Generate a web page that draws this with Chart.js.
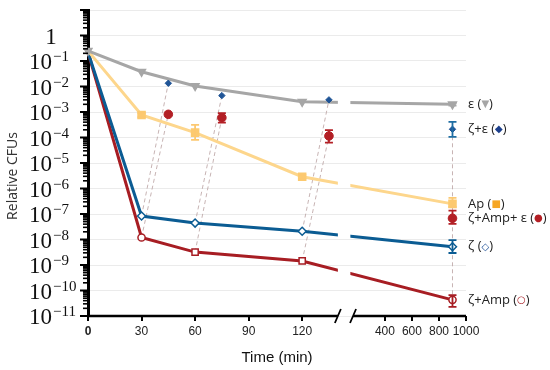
<!DOCTYPE html>
<html lang="en">
<head>
  <meta charset="UTF-8">
  <title>Relative CFUs</title>
  <style>
    body { margin: 0; background: #fff; }
    canvas { display: block; }
  </style>
</head>
<body>
  <canvas id="chartCanvas" width="550" height="370"></canvas>

  <script src="https://cdn.jsdelivr.net/npm/chart.js"></script>
  <script>
    // Sampling times (min)
    const times = [0, 30, 60, 120, 900];
    const timesEps = [45, 75, 135, 900];

    // Relative CFUs per series
    const eps = [0.25, 0.038, 0.0105, 0.0025, 0.002];
    const ap = [0.25, 7.6e-4, 1.55e-4, 2.9e-6, 2.5e-7];
    const zeta = [0.22, 8.3e-8, 4.4e-8, 2.1e-8, 5.2e-9];
    const zetaAmp = [0.22, 1.2e-8, 3.2e-9, 1.44e-9, 4.3e-11];
    const zetaEps = [0.0134, 0.0044, 0.003, 2.1e-4];
    const zetaAmpEps = [8.1e-4, 6e-4, 1.15e-4, 6.8e-8];

    // Error bars [low, high] (null = none)
    const epsErr = [null, null, null, null, [1.8e-3, 2.25e-3]];
    const apErr = [null, [6.3e-4, 9e-4], [8e-5, 3.1e-4], [2.4e-6, 3.4e-6], [1.9e-7, 4.3e-7]];
    const zetaErr = [null, null, null, null, [2.95e-9, 9.5e-9]];
    const zetaAmpErr = [null, null, null, null, [2.3e-11, 6.6e-11]];
    const zetaEpsErr = [null, null, null, [1.05e-4, 4.1e-4]];
    const zetaAmpEpsErr = [null, [3.8e-4, 9.1e-4], [6.3e-5, 1.96e-4], [4.1e-8, 1.35e-7]];

    // Axis ticks
    const xTicks = [0, 30, 60, 90, 120, 400, 600, 800, 1000];
    const yExponents = [0, -1, -2, -3, -4, -5, -6, -7, -8, -9, -10, -11];

    // broken time axis: 0-140 min linear, then a compressed 164-1000 segment
    const BREAK_END = 140, SEG2_START = 164, SEG2_AXIS = 148.5, SEG2_SCALE = 0.0757;
    function toAxis(t) {
      return t <= BREAK_END ? t : SEG2_AXIS + (t - SEG2_START) * SEG2_SCALE;
    }
    const LINE_GAP = [140, 147];

    const pts = (ts, vs) => vs.map((v, i) => ({ x: toAxis(ts[i]), y: v }));

    const GRAY = '#a6a6a6', YELLOW = '#fdd68c', BLUE = '#0b5c93', RED = '#a71d23';
    const NAVY = '#1f5496', RED2 = '#b31f25';
    const DASH = 'rgba(185,160,160,0.8)';

    const connectors = [];
    for (let i = 0; i < 3; i++) {
      connectors.push([{ x: toAxis(times[i + 1]), y: zeta[i + 1] }, { x: toAxis(timesEps[i]), y: zetaEps[i] }]);
      connectors.push([{ x: toAxis(times[i + 1]), y: zetaAmp[i + 1] }, { x: toAxis(timesEps[i]), y: zetaAmpEps[i] }]);
    }
    connectors.push([{ x: toAxis(times[4]), y: zetaEps[3] }, { x: toAxis(times[4]), y: zetaAmp[4] }]);

    const legendItems = [
      { text: 'ε', sym: '▼', color: GRAY, value: eps[4] },
      { text: 'ζ+ε', sym: '◆', color: '#1c3f8c', value: zetaEps[3] },
      { text: 'Ap', sym: '■', color: '#f6a623', value: ap[4] },
      { text: 'ζ+Amp+ ε', sym: '●', color: RED2, value: zetaAmpEps[3] },
      { text: 'ζ', sym: '◇', color: '#1c4f96', value: zeta[4] },
      { text: 'ζ+Amp', sym: '○', color: RED, value: zetaAmp[4] }
    ];

    const lineDefaults = { tension: 0, borderWidth: 3, clip: false, broken: true, pointBorderWidth: 1.5 };

    const datasets = connectors.map(c => ({
      data: c, borderColor: DASH, borderWidth: 1, borderDash: [4, 3], pointRadius: 0, order: 10, clip: false
    }));
    datasets.push(
      Object.assign({}, lineDefaults, {
        data: pts(times, zetaAmp), borderColor: RED, errors: zetaAmpErr, order: 5,
        pointStyle: ['circle', 'circle', 'rect', 'rect', 'circle'],
        pointRadius: [0, 3.6, 4.4, 4.4, 3.6], pointBackgroundColor: '#fff', pointBorderColor: RED
      }),
      Object.assign({}, lineDefaults, {
        data: pts(times, zeta), borderColor: BLUE, errors: zetaErr, order: 4,
        pointStyle: 'rectRot', pointRadius: [0, 4, 4, 4, 4], pointBackgroundColor: '#fff', pointBorderColor: BLUE
      }),
      Object.assign({}, lineDefaults, {
        data: pts(times, ap), borderColor: YELLOW, errors: apErr, errColor: '#fcc870', order: 3,
        pointStyle: 'rect', pointRadius: [0, 5, 5, 5, 5], pointBackgroundColor: '#fcca70', pointBorderColor: '#fcca70'
      }),
      Object.assign({}, lineDefaults, {
        data: pts(times, eps), borderColor: GRAY, errors: epsErr, order: 2,
        pointStyle: 'triangle', pointRotation: 180, pointRadius: 4.5, pointBackgroundColor: GRAY, pointBorderColor: GRAY
      }),
      {
        data: pts(timesEps, zetaEps), showLine: false, errors: zetaEpsErr, errColor: '#1f6ea3', order: 1, clip: false,
        pointStyle: 'rectRot', pointRadius: 3.2, pointBackgroundColor: NAVY, pointBorderColor: NAVY
      },
      {
        data: pts(timesEps, zetaAmpEps), showLine: false, errors: zetaAmpEpsErr, order: 0, clip: false,
        pointStyle: 'circle', pointRadius: 4.3, pointBackgroundColor: RED2, pointBorderColor: RED2
      }
    );

    const decorations = {
      id: 'decorations',
      beforeDatasetDraw(chart, args) {
        const ds = chart.data.datasets[args.index];
        if (!ds.broken) return;
        const { ctx, width, height, scales: { x } } = chart;
        const a = x.getPixelForValue(LINE_GAP[0]), b = x.getPixelForValue(LINE_GAP[1]);
        ctx.save();
        ctx.beginPath();
        ctx.rect(0, 0, a, height);
        ctx.rect(b, 0, width - b, height);
        ctx.clip();
      },
      afterDatasetDraw(chart, args) {
        if (chart.data.datasets[args.index].broken) chart.ctx.restore();
      },
      afterDatasetsDraw(chart) {
        const { ctx, scales: { y } } = chart;
        // error bars
        chart.data.datasets.forEach((ds, i) => {
          if (!ds.errors) return;
          const meta = chart.getDatasetMeta(i);
          ctx.save();
          ctx.strokeStyle = ds.errColor || ds.pointBorderColor;
          ctx.lineWidth = 1.8;
          ds.errors.forEach((e, j) => {
            if (!e) return;
            const px = meta.data[j].x;
            const y0 = y.getPixelForValue(e[0]), y1 = y.getPixelForValue(e[1]);
            ctx.beginPath();
            ctx.moveTo(px, y0); ctx.lineTo(px, y1);
            ctx.moveTo(px - 4, y0); ctx.lineTo(px + 4, y0);
            ctx.moveTo(px - 4, y1); ctx.lineTo(px + 4, y1);
            ctx.stroke();
          });
          ctx.restore();
        });
      },
      afterDraw(chart) {
        const { ctx, chartArea, scales: { x, y } } = chart;
        const left = chartArea.left, bottom = chartArea.bottom;
        ctx.save();

        // x axis with break
        const a = x.getPixelForValue(BREAK_END), b = x.getPixelForValue(SEG2_AXIS);
        ctx.strokeStyle = '#000';
        ctx.lineWidth = 2.5;
        ctx.beginPath();
        ctx.moveTo(left - 1, bottom); ctx.lineTo(a, bottom);
        ctx.moveTo(b, bottom); ctx.lineTo(chartArea.right, bottom);
        ctx.stroke();
        ctx.lineWidth = 1.8;
        ctx.beginPath();
        ctx.moveTo(a - 3, bottom + 7); ctx.lineTo(a + 3, bottom - 7);
        ctx.moveTo(b - 3, bottom + 7); ctx.lineTo(b + 3, bottom - 7);
        ctx.stroke();

        // y ticks: majors and minors
        for (let e = 1; e >= -11; e--) {
          const py = y.getPixelForValue(Math.pow(10, e));
          ctx.lineWidth = 2;
          ctx.beginPath(); ctx.moveTo(left - 8, py); ctx.lineTo(left, py); ctx.stroke();
          if (e === 1) continue;
          ctx.lineWidth = 1.6;
          for (let k = 2; k <= 9; k++) {
            const my = y.getPixelForValue(k * Math.pow(10, e));
            ctx.beginPath(); ctx.moveTo(left - 5, my); ctx.lineTo(left, my); ctx.stroke();
          }
        }

        // y labels 10^n
        ctx.fillStyle = '#111';
        ctx.textBaseline = 'alphabetic';
        yExponents.forEach(e => {
          const py = y.getPixelForValue(Math.pow(10, e)) + 8;
          ctx.font = '23px "Liberation Serif"';
          if (e === 0) {
            ctx.textAlign = 'center';
            ctx.fillText('1', 51, py);
            return;
          }
          ctx.textAlign = 'left';
          ctx.fillText('10', 29, py);
          const w = ctx.measureText('10').width;
          ctx.font = '15px "Liberation Serif"';
          ctx.fillText('\u2212' + (-e), 29 + w + 1, py - 8);
        });

        // y title
        ctx.save();
        ctx.translate(13, 176);
        ctx.rotate(-Math.PI / 2);
        ctx.textAlign = 'center';
        ctx.textBaseline = 'middle';
        ctx.font = '14px "Open Sans"';
        ctx.fillStyle = '#333';
        ctx.fillText('Relative CFUs', 0, 0);
        ctx.restore();

        // series labels on the right
        ctx.textAlign = 'left';
        ctx.textBaseline = 'middle';
        legendItems.forEach(item => {
          const py = y.getPixelForValue(item.value);
          let px = 468;
          ctx.font = '13px "Open Sans"';
          ctx.fillStyle = '#222';
          const head = item.text + ' (';
          ctx.fillText(head, px, py);
          px += ctx.measureText(head).width;
          ctx.font = 'bold 10px "DejaVu Sans"';
          ctx.fillStyle = item.color;
          ctx.fillText(item.sym, px, py + 0.5);
          px += ctx.measureText(item.sym).width;
          ctx.font = '13px "Open Sans"';
          ctx.fillStyle = '#222';
          ctx.fillText(')', px, py);
        });
        ctx.restore();
      }
    };

    new Chart(document.getElementById('chartCanvas'), {
      type: 'line',
      data: { datasets },
      options: {
        responsive: false,
        animation: false,
        events: [],
        layout: { padding: { top: 10, right: 84, left: 0, bottom: 0 } },
        plugins: { legend: { display: false }, tooltip: { enabled: false } },
        scales: {
          x: {
            type: 'linear',
            min: 0,
            max: toAxis(1000),
            afterBuildTicks: s => { s.ticks = xTicks.map(t => ({ value: toAxis(t) })); },
            afterFit: s => { s.height = 54; },
            ticks: {
              autoSkip: false,
              maxRotation: 0,
              padding: 3,
              color: '#222',
              callback: (v, i) => String(xTicks[i]),
              font: c => (c.tick && c.tick.value === 0)
                ? { family: '"Liberation Sans"', size: 12, weight: 'bold' }
                : { family: '"Liberation Sans Narrow", "Liberation Sans"', size: 12 }
            },
            grid: { drawOnChartArea: false, drawTicks: true, tickLength: 5, color: '#000', lineWidth: 2 },
            border: { display: false },
            title: {
              display: true,
              text: 'Time (min)',
              color: '#111',
              font: { family: '"Liberation Sans"', size: 15 },
              padding: { top: 0, bottom: 3 }
            }
          },
          y: {
            type: 'logarithmic',
            min: 1e-11,
            max: 10,
            afterBuildTicks: s => {
              const t = [];
              for (let e = -11; e <= 1; e++) t.push({ value: Math.pow(10, e), major: true });
              s.ticks = t;
            },
            afterFit: s => { s.width = 88; },
            ticks: { display: false },
            grid: { color: '#ebebeb', lineWidth: 1, drawTicks: false },
            border: { display: true, color: '#000', width: 3 }
          }
        }
      },
      plugins: [decorations]
    });
  </script>
</body>
</html>
